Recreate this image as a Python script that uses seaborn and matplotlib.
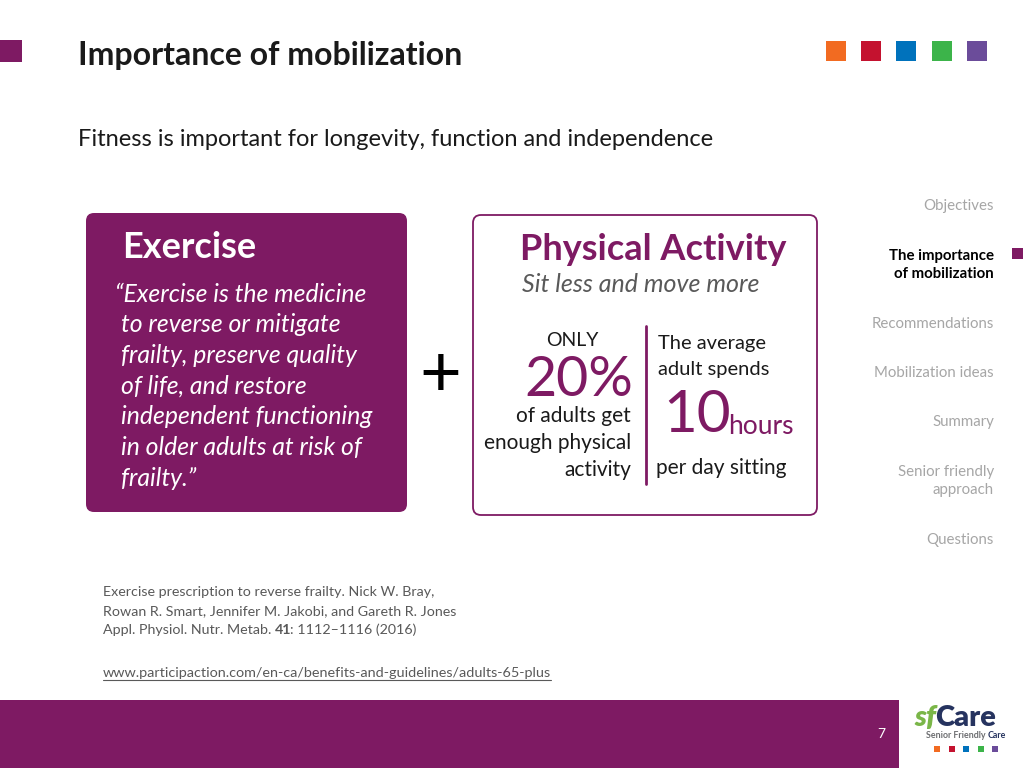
import matplotlib
matplotlib.use("Agg")
import matplotlib.pyplot as plt
from matplotlib.patches import FancyBboxPatch, Rectangle
import seaborn as sns
import pandas as pd

# slide content
title = "Importance of mobilization"
subtitle = "Fitness is important for longevity, function and independence"
brand_colors = ["#f26b21", "#c4122f", "#0072bc", "#3cb44a", "#6b4c9a"]
purple = "#7e1a63"

exercise_quote = ["\u201cExercise is the medicine", "to reverse or mitigate",
                  "frailty, preserve quality", "of life, and restore",
                  "independent functioning", "in older adults at risk of",
                  "frailty.\u201d"]
stat_pct = "20%"
stat_pct_text = ["of adults get", "enough physical", "activity"]
stat_hours = "10"
stat_hours_text = ["The average", "adult spends"]

nav_items = ["Objectives", "The importance\nof mobilization", "Recommendations",
             "Mobilization ideas", "Summary", "Senior friendly\napproach", "Questions"]
nav_y = [204, 263, 322, 371, 420, 479, 538]
nav_active = 1

refs = ["Exercise prescription to reverse frailty. Nick W. Bray,",
        "Rowan R. Smart, Jennifer M. Jakobi, and Gareth R. Jones"]
url = "www.participaction.com/en-ca/benefits-and-guidelines/adults-65-plus"
page_no = "7"

sns.set_theme(style="white")
plt.rcParams["font.family"] = ["Lato", "DejaVu Sans"]

fig = plt.figure(figsize=(10.24, 7.68), dpi=100)
ax = fig.add_axes([0, 0, 1, 1])
ax.set_xlim(0, 1024)
ax.set_ylim(768, 0)
ax.axis("off")
dark = "#1a1a1a"
gray = "#595959"
light = "#a6a6a6"
dy = 2  # va="center" sits a little high
r = fig.canvas.get_renderer()

# header
ax.add_patch(Rectangle((0, 40), 22, 22, color=purple, lw=0))
ax.text(78, 55, title, fontsize=23, fontweight="bold", color=dark, va="center")
sq = pd.DataFrame({"x": [836, 871, 906, 942, 977], "y": [51] * 5, "c": brand_colors})
sns.scatterplot(data=sq, x="x", y="y", hue="c", palette=brand_colors, marker="s",
                s=200, linewidth=0, legend=False, ax=ax)
ax.text(78, 138 + dy, subtitle, fontsize=17, color=dark, va="center")

# exercise box
ax.add_patch(FancyBboxPatch((86, 213), 321, 299, boxstyle="round,pad=0,rounding_size=8",
                            fc=purple, ec="none"))
ax.text(122, 246 + dy, "Exercise", fontsize=26, fontweight="bold", color="white", va="center")
for i, line in enumerate(exercise_quote):
    x = 115 if i == 0 else 121
    ax.text(x, 292 + dy + i * 30.7, line, fontsize=17.8, style="italic", color="white",
            va="center")

ax.text(440, 375, "+", fontsize=52, color="black", ha="center", va="center")

# physical activity box
ax.add_patch(FancyBboxPatch((473, 215), 344, 300, boxstyle="round,pad=0,rounding_size=8",
                            fc="white", ec=purple, lw=1.3))
ax.text(653, 247 + dy, "Physical Activity", fontsize=26, fontweight="bold", color=purple,
        ha="center", va="center")
ax.text(522, 283 + dy, "Sit less and move more", fontsize=18, style="italic", color=gray,
        va="center")
ax.plot([646, 646], [326, 484], color=purple, lw=2)
ax.text(572, 338 + dy, "ONLY", fontsize=14, color=dark, ha="center", va="center")
ax.text(633, 378 + dy, stat_pct, fontsize=40, color=purple, ha="right", va="center")
for i, line in enumerate(stat_pct_text):
    ax.text(631, 414 + dy + i * 27, line, fontsize=15, color=dark, ha="right", va="center")
for i, line in enumerate(stat_hours_text):
    ax.text(658, 341 + dy + i * 27, line, fontsize=14.5, color=dark, va="center")
ax.text(663, 414 + dy, stat_hours, fontsize=42, color=purple, va="center")
ax.text(728, 424 + dy, "hours", fontsize=19, color=purple, va="center")
ax.text(656, 466 + dy, "per day sitting", fontsize=15, color=dark, va="center")

# side navigation
for i, (item, y) in enumerate(zip(nav_items, nav_y)):
    active = i == nav_active
    ax.text(994, y + dy, item, fontsize=10.8, ha="right", va="center", linespacing=1.45,
            color="black" if active else light, fontweight="bold" if active else "normal")
ax.add_patch(Rectangle((1012, 248), 11, 11, color=purple, lw=0))

# references
for i, line in enumerate(refs):
    ax.text(103, 590 + dy + i * 19, line, fontsize=10.3, color=gray, va="center")
parts = [("Appl. Physiol. Nutr. Metab. ", "normal"), ("41", "bold"), (": 1112\u20131116 (2016)", "normal")]
x = 103
for txt, w in parts:
    t = ax.text(x, 628 + dy, txt, fontsize=10.3, color=gray, va="center", fontweight=w)
    x += t.get_window_extent(r).width - (1 if w == "bold" else 0)
tu = ax.text(103, 671 + dy, url, fontsize=10.35, color=gray, va="center")
ax.plot([103, 103 + tu.get_window_extent(r).width], [680, 680], color=gray, lw=0.8)

# footer
ax.add_patch(Rectangle((0, 700), 899, 68, color=purple, lw=0))
ax.text(881, 734, page_no, fontsize=10, color="white", ha="center", va="center")
tsf = ax.text(914, 718, "sf", fontsize=21, fontweight="heavy", style="italic", color="#7ab648",
              va="center")
ax.text(914 + tsf.get_window_extent(r).width - 1, 718, "Care", fontsize=21, fontweight="heavy",
        color="#26335f", va="center")
tsn = ax.text(926, 735, "Senior Friendly ", fontsize=6.4, fontweight="bold", color="#6d6e71",
              va="center")
ax.text(926 + tsn.get_window_extent(r).width, 735, "Care", fontsize=6.4, fontweight="bold",
        color="#26335f", va="center")
lg = pd.DataFrame({"x": [937, 952, 966, 981, 995], "y": [749] * 5, "c": brand_colors})
sns.scatterplot(data=lg, x="x", y="y", hue="c", palette=brand_colors, marker="s",
                s=16, linewidth=0, legend=False, ax=ax)
ax.set_xlim(0, 1024)
ax.set_ylim(768, 0)
ax.axis("off")

fig.savefig("out.png", dpi=100)
